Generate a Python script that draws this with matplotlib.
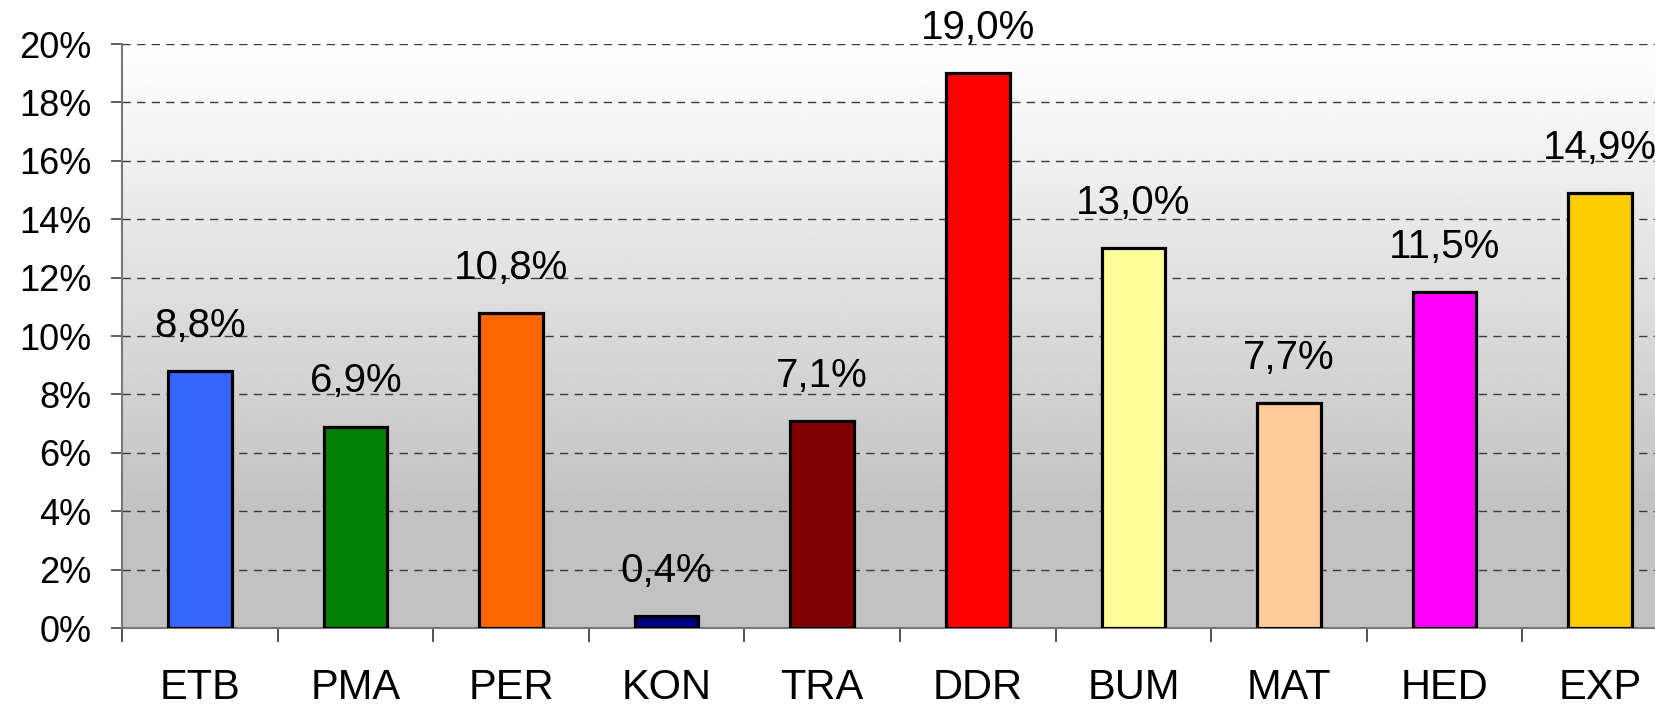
import matplotlib
matplotlib.use("Agg")
import matplotlib.pyplot as plt
import numpy as np
from matplotlib.ticker import FixedLocator, FuncFormatter

categories = ["ETB", "PMA", "PER", "KON", "TRA", "DDR", "BUM", "MAT", "HED", "EXP"]
values = [8.8, 6.9, 10.8, 0.4, 7.1, 19.0, 13.0, 7.7, 11.5, 14.9]
colors = ["#3366FF", "#008000", "#FF6600", "#000080", "#800000",
          "#FF0000", "#FFFF99", "#FFCC99", "#FF00FF", "#FFCC00"]
yticks = [0, 2, 4, 6, 8, 10, 12, 14, 16, 18, 20]

plt.rcParams['font.family'] = ['Liberation Sans', 'DejaVu Sans']

W, H = 1656, 706
fig = plt.figure(figsize=(W / 100, H / 100), dpi=100)
ax = fig.add_axes([122 / W, 78 / H, 1556 / W, 584 / H])

n = len(categories)
x = np.arange(n)
ax.set_xlim(-0.5, n - 0.5)
ax.set_ylim(0, 20)

# gradient background
yy = np.linspace(0, 1, 300)
shade = np.where(yy < 0.2, 0.76, 0.76 + (yy - 0.2) / 0.8 * 0.24)
grad = np.repeat(shade[:, None], 2, axis=1)
ax.imshow(grad, extent=[0, 1, 0, 1], transform=ax.transAxes, origin="lower",
          cmap="gray", vmin=0, vmax=1, aspect="auto", zorder=0, interpolation="bilinear")

ax.yaxis.grid(True, linestyle=(0, (6, 4.5)), color="#3a3a3a", linewidth=1.0, zorder=1)
ax.set_axisbelow(True)

ax.bar(x, values, width=0.41, color=colors, edgecolor="black", linewidth=2.3, zorder=3)

for xi, v in zip(x, values):
    ax.annotate(f"{v:.1f}%".replace(".", ","), (xi, v), xytext=(0, 24.5),
                textcoords="offset points", ha="center", va="baseline",
                fontsize=29, zorder=4, annotation_clip=False)

ax.set_yticks(yticks)
ax.yaxis.set_major_formatter(FuncFormatter(lambda v, p: f"{int(v)}%"))
ax.tick_params(axis="y", labelsize=26, length=8, width=1.2, color="#444444", pad=14)

ax.set_xticks(x)
ax.set_xticklabels(categories)
ax.xaxis.set_minor_locator(FixedLocator(np.arange(-0.5, n, 1.0)))
ax.tick_params(axis="x", which="major", length=0, labelsize=30, pad=29)
ax.tick_params(axis="x", which="minor", length=10, width=1.2, color="#333333")

for s in ["top", "right"]:
    ax.spines[s].set_visible(False)
ax.spines["left"].set_color("#777777")
ax.spines["left"].set_linewidth(1.5)
ax.spines["bottom"].set_color("#777777")
ax.spines["bottom"].set_linewidth(1.5)
ax.spines["left"].set_zorder(2)

fig.savefig("out.png", dpi=100)
